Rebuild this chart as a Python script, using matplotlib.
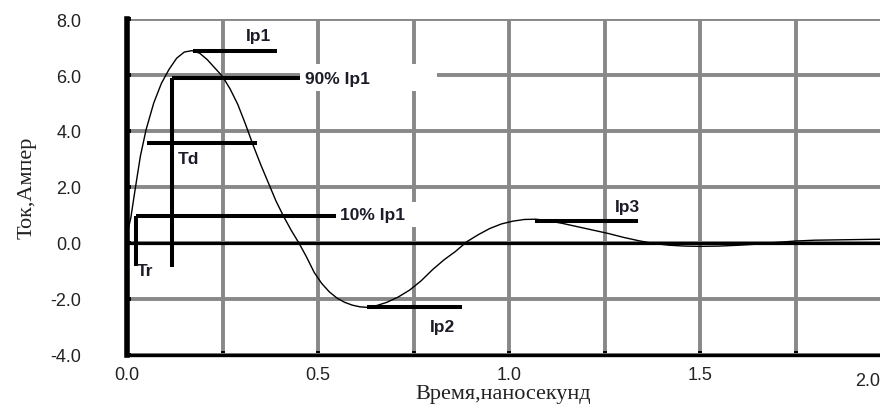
import numpy as np
import matplotlib
matplotlib.use("Agg")
from matplotlib import pyplot as plt
from matplotlib.patches import Rectangle

# current pulse (time in ns, current in A)
t_ns = [0.0, 0.01, 0.02, 0.035, 0.05, 0.07, 0.09, 0.11, 0.13, 0.15, 0.17, 0.19,
        0.21, 0.23, 0.25, 0.27, 0.29, 0.31, 0.33, 0.35, 0.37, 0.39, 0.41, 0.43,
        0.45, 0.47, 0.49, 0.51, 0.53, 0.55, 0.57, 0.59, 0.61, 0.63, 0.65, 0.68,
        0.71, 0.74, 0.77, 0.80, 0.83, 0.86, 0.89, 0.92, 0.95, 0.98, 1.01, 1.04,
        1.07, 1.10, 1.14, 1.18, 1.22, 1.26, 1.30, 1.34, 1.38, 1.42, 1.46, 1.50,
        1.55, 1.60, 1.65, 1.70, 1.75, 1.80, 1.85, 1.90, 1.95, 2.0]
i_amp = [0.3, 0.9, 1.8, 3.1, 4.05, 5.0, 5.7, 6.2, 6.6, 6.82, 6.87, 6.78,
         6.55, 6.25, 5.95, 5.5, 4.95, 4.25, 3.5, 2.8, 2.15, 1.5, 0.95, 0.45,
         0.0, -0.5, -1.05, -1.45, -1.75, -1.97, -2.12, -2.22, -2.28, -2.3, -2.25, -2.12,
         -1.93, -1.68, -1.35, -0.95, -0.6, -0.3, 0.05, 0.3, 0.52, 0.68, 0.78, 0.84,
         0.85, 0.8, 0.7, 0.58, 0.46, 0.34, 0.2, 0.08, -0.02, -0.08, -0.11, -0.12,
         -0.11, -0.08, -0.04, 0.02, 0.07, 0.1, 0.11, 0.12, 0.13, 0.14]

# marker lines: (x0, x1, y)
hlines = {
    'ip1': (0.173, 0.393, 6.86),
    'p90': (0.118, 0.453, 5.89),
    'td': (0.052, 0.34, 3.57),
    'p10': (0.024, 0.547, 0.96),
    'ip2': (0.628, 0.877, -2.29),
    'ip3': (1.068, 1.338, 0.79),
}
# vertical markers: (x, y_top, y_bottom)
vlines = [(0.118, 5.89, -0.86), (0.024, 0.96, -0.82)]

labels = ['Ip1', '90% Ip1', 'Td', '10% Ip1', 'Tr', 'Ip2', 'Ip3']
label_pos = [(0.343, 7.4, 'center'), (0.466, 5.89, 'left'), (0.134, 3.0, 'left'),
             (0.558, 1.0, 'left'), (0.026, -1.0, 'left'), (0.793, -3.0, 'left'),
             (1.277, 1.29, 'left')]

# white boxes behind the two percent labels (cut the grid)
masks = [(0.453, 5.43, 0.359, 0.96), (0.55, 0.57, 0.24, 0.89)]

x_ticks = [0.0, 0.25, 0.5, 0.75, 1.0, 1.25, 1.5, 1.75]
x_ticklabels = ['0.0', '', '0.5', '', '1.0', '', '1.5', '']
y_ticks = [-4, -2, 0, 2, 4, 6, 8]

fig = plt.figure(figsize=(8.8, 4.1), dpi=100)
ax = fig.add_axes([127 / 880, 54 / 410, 1 - 127 / 880, 336 / 410])

ax.set_xlim(0, 753 / 382)
ax.set_ylim(-4, 8)
ax.set_xticks(x_ticks)
ax.set_xticklabels(x_ticklabels)
ax.set_yticks(y_ticks)
ax.set_yticklabels(['%.1f' % v for v in y_ticks])

ax.set_axisbelow(True)
ax.grid(True, color='#888888', linewidth=2.8)

for sp in ['top', 'right']:
    ax.spines[sp].set_visible(False)
ax.spines['left'].set_linewidth(4.0)
ax.spines['bottom'].set_linewidth(2.4)

ax.tick_params(axis='both', direction='in', length=3, width=2.8, color='black',
               labelsize=13, labelcolor='#222222')
ax.tick_params(axis='y', pad=33)
ax.tick_params(axis='x', pad=8)
for lab in ax.get_xticklabels() + ax.get_yticklabels():
    lab.set_fontfamily('Liberation Sans')

# extra "2.0" label sitting at the cut edge
ax.text(1.94, -0.05, '2.0', transform=ax.get_xaxis_transform(), ha='center', va='top',
        fontsize=13, color='#222222', family='Liberation Sans', clip_on=False)

for (mx, my, mw, mh) in masks:
    ax.add_patch(Rectangle((mx, my), mw, mh, facecolor='white', edgecolor='none', zorder=1.5))

ax.axhline(0, color='black', linewidth=2.3, zorder=2)
ax.plot(t_ns, i_amp, color='black', linewidth=1.0, zorder=3)

for key in hlines:
    x0, x1, y = hlines[key]
    ax.plot([x0, x1], [y, y], color='black', linewidth=2.9, solid_capstyle='butt', zorder=4)
for (x, y0, y1) in vlines:
    ax.plot([x, x], [y0, y1], color='black', linewidth=2.9, solid_capstyle='butt', zorder=4)

for txt, (x, y, ha) in zip(labels, label_pos):
    ax.text(x, y, txt, ha=ha, va='center', fontsize=12.5, fontweight='bold',
            color='#1c1c28', family='Liberation Sans', zorder=5)

ax.set_xlabel('Время,наносекунд', family='Liberation Serif', fontsize=16, color='#222222',
              labelpad=1)
ax.set_ylabel('Ток,Ампер', family='Liberation Serif', fontsize=16, color='#222222',
              labelpad=10)

fig.savefig('out.png', dpi=100)
